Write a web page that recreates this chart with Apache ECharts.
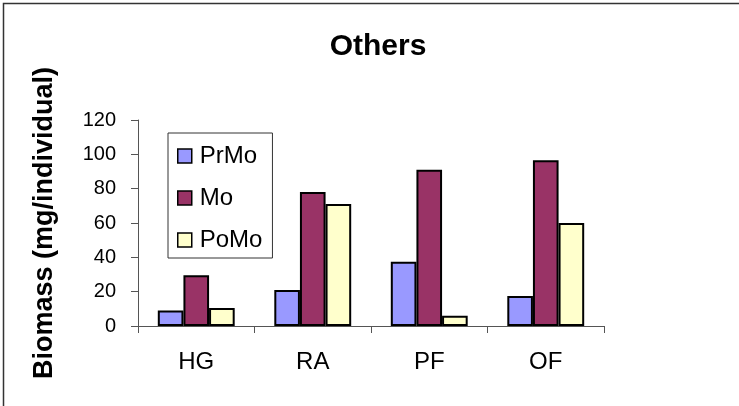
<!DOCTYPE html>
<html>
<head>
<meta charset="utf-8">
<script src="https://cdn.jsdelivr.net/npm/echarts@6/dist/echarts.min.js"></script>
<style>
html,body{margin:0;padding:0;background:#fff;}
#chart{width:739px;height:406px;}
</style>
</head>
<body>
<div id="chart"></div>
<script>
var categories = ['HG', 'RA', 'PF', 'OF'];
var prMo = [9, 21, 37.5, 17.5];
var mo = [29.5, 78, 91, 96.5];
var poMo = [10.5, 71, 6, 60];
var yTicks = [0, 20, 40, 60, 80, 100, 120];

var FONT = '"Liberation Sans", Arial, sans-serif';
var chart = echarts.init(document.getElementById('chart'), null, {renderer: 'canvas'});

function bar(name, data, color) {
  return {
    name: name, type: 'bar', data: data,
    barGap: '0%', barCategoryGap: '34%',
    itemStyle: {color: color, borderColor: '#000', borderWidth: 2},
    emphasis: {disabled: true}
  };
}

chart.setOption({
  animation: false,
  backgroundColor: '#fff',
  title: {
    text: 'Others', left: 373, top: 27, textAlign: 'center',
    textStyle: {fontFamily: FONT, fontSize: 30, fontWeight: 'bold', color: '#000'}
  },
  grid: {left: 138, right: 135, top: 120, bottom: 80},
  legend: {
    orient: 'vertical', left: 168, top: 133,
    padding: [11, 10, 6, 9], itemGap: 18,
    itemWidth: 14, itemHeight: 14, icon: 'rect',
    borderColor: '#333', borderWidth: 1,
    itemStyle: {borderColor: '#000', borderWidth: 1.5},
    textStyle: {fontFamily: FONT, fontSize: 24, color: '#000', padding: [0, 0, 0, 3]},
    data: ['PrMo', 'Mo', 'PoMo']
  },
  xAxis: {
    type: 'category', data: categories,
    axisLine: {lineStyle: {color: '#555', width: 1}},
    axisTick: {show: true, length: 7, alignWithLabel: false, lineStyle: {color: '#555'}},
    axisLabel: {fontFamily: FONT, fontSize: 24, color: '#000', margin: 24}
  },
  yAxis: {
    type: 'value', min: yTicks[0], max: yTicks[yTicks.length - 1], interval: 20,
    name: 'Biomass (mg/individual)', nameLocation: 'middle', nameGap: 80, nameRotate: 90,
    nameTextStyle: {fontFamily: FONT, fontSize: 27, fontWeight: 'bold', color: '#000'},
    axisLine: {show: true, lineStyle: {color: '#555', width: 1}},
    axisTick: {show: true, length: 7, lineStyle: {color: '#555'}},
    splitLine: {show: false},
    axisLabel: {fontFamily: FONT, fontSize: 20, color: '#000', margin: 22}
  },
  series: [
    bar('PrMo', prMo, '#9999FF'),
    bar('Mo', mo, '#993366'),
    bar('PoMo', poMo, '#FFFFCC')
  ],
  graphic: [{
    type: 'polyline', silent: true,
    shape: {points: [[3.5, 406], [3.5, 3.5], [739, 3.5]]},
    style: {stroke: '#333', lineWidth: 1.5, fill: null}
  }]
});
</script>
</body>
</html>
